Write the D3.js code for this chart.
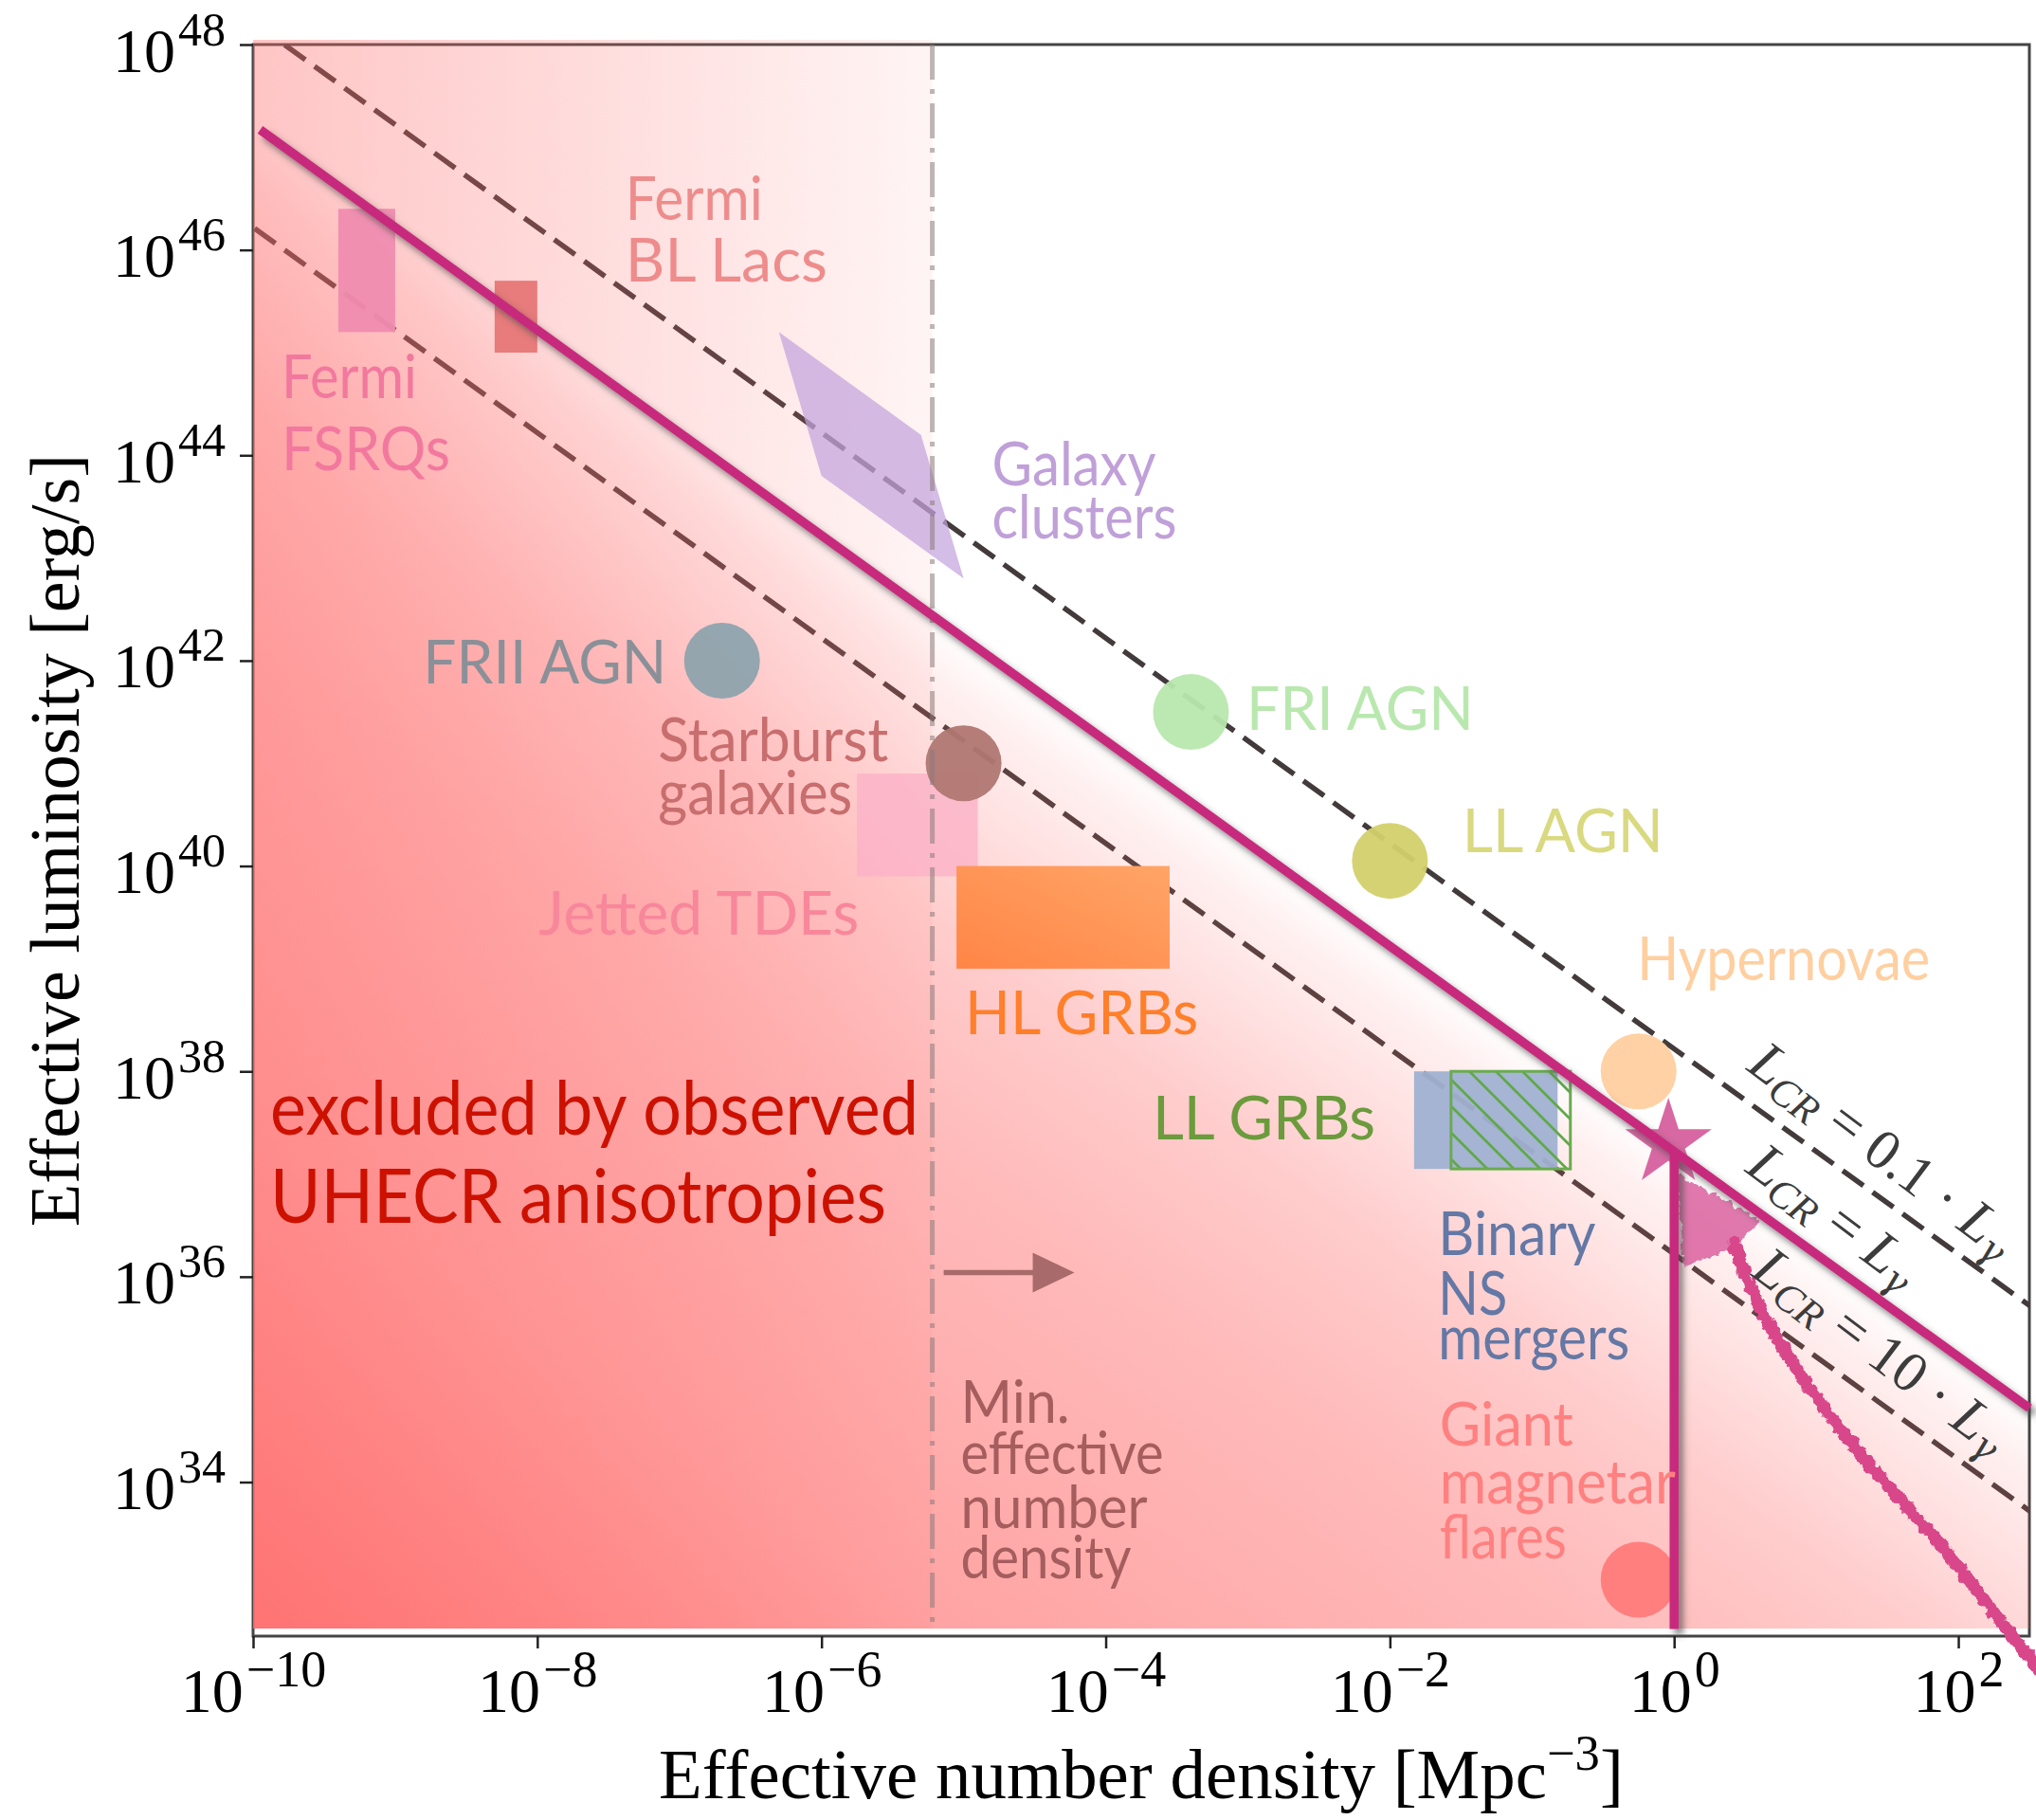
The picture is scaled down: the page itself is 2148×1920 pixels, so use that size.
<!DOCTYPE html>
<html>
<head>
<meta charset="utf-8">
<script src="https://cdn.jsdelivr.net/npm/d3@7"></script>
<style>
  body { margin: 0; background: #fff; }
  svg { display: block; }
</style>
</head>
<body>
<script>
// ---------------- data ----------------
// axis ticks (log10 exponents)
const xTickExps = [-10, -8, -6, -4, -2, 0, 2];
const yTickExps = [34, 36, 38, 40, 42, 44, 46, 48];

// L_CR = ratio * L_gamma reference lines; log10 L at n = 1 Mpc^-3 for ratio 1
const normLogL = 37.22;
const lineRatios = [0.1, 1, 10];

// minimum effective number density (log10 n)
const nMinLog = -5.22;

// single-population sources drawn as discs: log10 n, log10 L
const discNames = ["FRII AGN", "Starburst galaxies", "FRI AGN", "LL AGN", "Hypernovae", "Giant magnetar flares"];
const discLogN  = [-6.7, -5.0, -3.4, -2.0, -0.25, -0.25];
const discLogL  = [42.0, 41.0, 41.5, 40.05, 38.0, 33.05];

// source classes drawn as boxes: log10 n range, log10 L range
const boxNames  = ["Fermi FSRQs", "Fermi BL Lacs", "Jetted TDEs", "HL GRBs", "Binary NS mergers", "LL GRBs"];
const boxLogN0  = [-9.4, -8.3, -5.75, -5.05, -1.83, -1.57];
const boxLogN1  = [-9.0, -8.0, -4.9, -3.55, -0.82, -0.73];
const boxLogL0  = [45.2, 45.0, 39.9, 39.0, 37.05, 37.05];
const boxLogL1  = [46.4, 45.7, 40.9, 40.0, 38.0, 38.0];

// galaxy clusters region (log10 n, log10 L)
const clusterLogN = [-6.3, -5.3, -5.0, -6.0];
const clusterLogL = [45.2, 44.2, 42.8, 43.8];

// magnetar point and its scatter trail (log10 n, log10 L)
const starLogN = -0.04, starLogL = 37.3;
const trailLogN = [0.42, 0.553, 0.867, 1.44, 1.887, 2.333, 2.62];
const trailLogL = [36.34, 35.79, 35.05, 34.03, 33.41, 32.56, 32.09];
const blobLogN = [0.02, 0.6, 0.45, 0.07];
const blobLogL = [37.0, 36.56, 36.3, 36.1];

// ---------------- styles ----------------
const discColors = ["#8ea3ad", "#b07772", "#b8e8ae", "#d3d06b", "#ffcf9f", "#ff7b7b"];
const boxColors  = ["#f08cb0", "#e87b7b", "#fbb1c7", "url(#gradHL)", "#a0b1d1", "url(#hatch)"];
const boxOpacity = [0.95, 1, 0.8, 1, 0.95, 1];
const magenta = "#c72a7d";

const W = 2148, H = 1920;
const pL = 267, pR = 2141, pT = 47, pB = 1726;
const shadeTop = 42, shadeBottom = 1718;

const x = d3.scaleLog().domain([1e-10, Math.pow(10, 2.5)]).range([pL, pR]);
const y = d3.scaleLog().domain([Math.pow(10, 32.5), 1e48]).range([pB, pT]);
const X = ln => x(Math.pow(10, ln));
const Y = ll => y(Math.pow(10, ll));

const svg = d3.select("body").append("svg").attr("width", W).attr("height", H);
const defs = svg.append("defs");

// clip to the axes
defs.append("clipPath").attr("id", "plotClip").append("rect")
  .attr("x", pL).attr("y", pT).attr("width", pR - pL).attr("height", pB - pT);

// shaded excluded region: left of n_min, and below the L_CR = L_gamma line
defs.append("clipPath").attr("id", "leftClip").append("rect")
  .attr("x", pL).attr("y", shadeTop).attr("width", X(nMinLog) - pL).attr("height", shadeBottom - shadeTop);

const lineAt = ln => [X(ln), Y(normLogL - ln)];
const P0 = lineAt(-10), P1 = lineAt(2.5);
defs.append("clipPath").attr("id", "belowClip").append("path")
  .attr("d", d3.line()([P0, P1, [pR, shadeBottom], [pL, shadeBottom]]) + "Z");

// gradient perpendicular to the line
{
  const dx = P1[0] - P0[0], dy = P1[1] - P0[1], len = Math.hypot(dx, dy);
  const nx = -dy / len, ny = dx / len;             // points down-left
  const C = [pL, shadeBottom];
  const t = (C[0] - P0[0]) * nx + (C[1] - P0[1]) * ny;
  const F = [C[0] - t * nx, C[1] - t * ny];
  const g = defs.append("linearGradient").attr("id", "gradBelow")
    .attr("gradientUnits", "userSpaceOnUse")
    .attr("x1", F[0]).attr("y1", F[1]).attr("x2", C[0]).attr("y2", C[1]);
  [[0, 0], [0.04, 0.1], [0.2, 0.33], [0.35, 0.45], [0.67, 0.6], [1, 0.86]].forEach(([o, a]) =>
    g.append("stop").attr("offset", o).attr("stop-color", "rgb(255,102,102)").attr("stop-opacity", a));
}
{
  const g = defs.append("linearGradient").attr("id", "gradLeft")
    .attr("gradientUnits", "userSpaceOnUse")
    .attr("x1", pL).attr("y1", 0).attr("x2", X(nMinLog)).attr("y2", 0);
  g.append("stop").attr("offset", 0).attr("stop-color", "rgb(255,102,102)").attr("stop-opacity", 0.38);
  g.append("stop").attr("offset", 1).attr("stop-color", "rgb(255,102,102)").attr("stop-opacity", 0.07);
}
{
  const g = defs.append("linearGradient").attr("id", "gradHL")
    .attr("x1", 0).attr("y1", 1).attr("x2", 1).attr("y2", 0);
  g.append("stop").attr("offset", 0).attr("stop-color", "#ff8546");
  g.append("stop").attr("offset", 1).attr("stop-color", "#ffa567");
}
// hatch for LL GRBs
{
  const p = defs.append("pattern").attr("id", "hatch").attr("patternUnits", "userSpaceOnUse")
    .attr("width", 28).attr("height", 28);
  p.append("path").attr("d", "M-7,-7L35,35M-7,21L7,35M21,-7L35,7")
    .attr("stroke", "#5fa84a").attr("stroke-width", 2.8).attr("fill", "none");
}
// drop shadow for the constraint lines
{
  const f = defs.append("filter").attr("id", "shadow").attr("filterUnits", "userSpaceOnUse")
    .attr("x", 0).attr("y", 0).attr("width", W).attr("height", H);
  f.append("feDropShadow").attr("dx", 5).attr("dy", 6).attr("stdDeviation", 3.5)
    .attr("flood-color", "#4a4a4a").attr("flood-opacity", 0.65);
}
// rough edge for the scatter trail
{
  const f = defs.append("filter").attr("id", "rough").attr("filterUnits", "userSpaceOnUse")
    .attr("x", 0).attr("y", 0).attr("width", W).attr("height", H);
  f.append("feTurbulence").attr("type", "fractalNoise").attr("baseFrequency", 0.14)
    .attr("numOctaves", 2).attr("seed", 4).attr("result", "noise");
  f.append("feDisplacementMap").attr("in", "SourceGraphic").attr("in2", "noise")
    .attr("scale", 9).attr("xChannelSelector", "R").attr("yChannelSelector", "G");
}

// ---------------- frame (under the shading) ----------------
svg.append("rect").attr("x", pL).attr("y", pT).attr("width", pR - pL).attr("height", pB - pT)
  .attr("fill", "none").attr("stroke", "#444").attr("stroke-width", 3);

// ---------------- dashed L_CR lines ----------------
const lineGen = d3.line().x(d => X(d[0])).y(d => Y(d[1]));
const plot = svg.append("g").attr("clip-path", "url(#plotClip)");
lineRatios.filter(r => r !== 1).forEach(r => {
  const off = -Math.log10(r);
  plot.append("path")
    .attr("d", lineGen([[-10.2, normLogL + off + 10.2], [2.6, normLogL + off - 2.6]]))
    .attr("fill", "none").attr("stroke", "#433b3b").attr("stroke-width", 5.5)
    .attr("stroke-dasharray", "27,12");
});

// ---------------- shading ----------------
svg.append("rect").attr("x", pL).attr("y", shadeTop).attr("width", pR - pL).attr("height", shadeBottom - shadeTop)
  .attr("fill", "url(#gradLeft)").attr("clip-path", "url(#leftClip)");
svg.append("rect").attr("x", pL).attr("y", shadeTop).attr("width", pR - pL).attr("height", shadeBottom - shadeTop)
  .attr("fill", "url(#gradBelow)").attr("clip-path", "url(#belowClip)");

// ---------------- sources ----------------
const marks = svg.append("g");
// boxes
boxNames.forEach((name, i) => {
  const x0 = X(boxLogN0[i]), x1 = X(boxLogN1[i]), y0 = Y(boxLogL1[i]), y1 = Y(boxLogL0[i]);
  const r = marks.append("rect").attr("x", x0).attr("y", y0).attr("width", x1 - x0).attr("height", y1 - y0)
    .attr("fill", boxColors[i]).attr("fill-opacity", boxOpacity[i]);
  if (name === "LL GRBs") r.attr("stroke", "#6aab50").attr("stroke-width", 3);
});
// galaxy clusters
marks.append("path")
  .attr("d", d3.line()(clusterLogN.map((n, i) => [X(n), Y(clusterLogL[i])])) + "Z")
  .attr("fill", "#c3a3dc").attr("fill-opacity", 0.72);
// discs
discNames.forEach((name, i) => {
  marks.append("circle").attr("cx", X(discLogN[i])).attr("cy", Y(discLogL[i])).attr("r", 40)
    .attr("fill", discColors[i]).attr("fill-opacity", 0.95);
});
// magnetar star
marks.append("path")
  .attr("d", d3.symbol(d3.symbolStar, 48 * 48 / 0.8908130915292852)())
  .attr("transform", `translate(${X(starLogN)},${Y(starLogL)})`)
  .attr("fill", "#d6609e").attr("fill-opacity", 0.95);

// minimum density marker (dash-dot)
svg.append("line").attr("x1", X(nMinLog)).attr("x2", X(nMinLog)).attr("y1", pT).attr("y2", shadeBottom)
  .attr("stroke", "#8a7a7a").attr("stroke-opacity", 0.55).attr("stroke-width", 5)
  .attr("stroke-dasharray", "37,10,5,10");

// ---------------- magnetar scatter trail ----------------
const rough = svg.append("g").attr("filter", "url(#rough)");
rough.append("path")
  .attr("d", d3.line()(blobLogN.map((n, i) => [X(n), Y(blobLogL[i])])) + "Z")
  .attr("fill", "#d8589a").attr("fill-opacity", 0.8);
rough.append("path")
  .attr("d", d3.line().curve(d3.curveBasis)(trailLogN.map((n, i) => [X(n), Y(trailLogL[i])])))
  .attr("fill", "none").attr("stroke", "#d8478a").attr("stroke-width", 13).attr("stroke-linecap", "round");

// ---------------- L_CR = L_gamma and n = 1 constraint ----------------
const cons = svg.append("g").attr("filter", "url(#shadow)");
cons.append("path")
  .attr("d", lineGen([[-9.95, normLogL + 9.95], [2.5, normLogL - 2.5]]))
  .attr("fill", "none").attr("stroke", magenta).attr("stroke-width", 9.5);
cons.append("path")
  .attr("d", lineGen([[0, normLogL], [0, 32.57]]))
  .attr("fill", "none").attr("stroke", magenta).attr("stroke-width", 9.5);

// arrow pointing to higher densities
{
  const ay = Y(36.04), ax0 = X(-5.14), ax1 = X(-4.22);
  svg.append("line").attr("x1", ax0).attr("x2", ax1 - 40).attr("y1", ay).attr("y2", ay)
    .attr("stroke", "#a86a6a").attr("stroke-width", 5.5);
  svg.append("path").attr("d", `M${ax1},${ay}L${ax1 - 44},${ay - 21}L${ax1 - 44},${ay + 21}Z`)
    .attr("fill", "#a86a6a");
}

// ---------------- annotations ----------------
const labels = [
  { lines: ["Fermi", "FSRQs"], ln: -9.80, ll: 44.56, gaps: [0, 76], widths: [143, 178], color: "#f2789e" },
  { lines: ["Fermi", "BL Lacs"], ln: -7.38, ll: 46.29, gaps: [0, 65], widths: [145, 213], color: "#ee8c8c" },
  { lines: ["Galaxy", "clusters"], ln: -4.80, ll: 43.71, gaps: [0, 56], widths: [173, 195], color: "#c0a0d8" },
  { lines: ["FRII AGN"], ln: -7.09, ll: 41.78, gaps: [0], widths: [257], color: "#8a9098", anchor: "end" },
  { lines: ["Starburst", "galaxies"], ln: -7.15, ll: 41.02, gaps: [0, 56], widths: [243, 205], color: "#c86e6e" },
  { lines: ["Jetted TDEs"], ln: -7.99, ll: 39.33, gaps: [0], widths: [338], color: "#f8879b" },
  { lines: ["HL GRBs"], ln: -4.99, ll: 38.36, gaps: [0], widths: [246], color: "#ff7f2a" },
  { lines: ["FRI AGN"], ln: -3.01, ll: 41.33, gaps: [0], widths: [240], color: "#b9e8af" },
  { lines: ["LL AGN"], ln: -1.49, ll: 40.13, gaps: [0], widths: [212], color: "#d9d980" },
  { lines: ["Hypernovae"], ln: -0.26, ll: 38.89, gaps: [0], widths: [309], color: "#ffcfa0" },
  { lines: ["LL GRBs"], ln: -3.67, ll: 37.34, gaps: [0], widths: [235], color: "#6b9b3c" },
  { lines: ["Binary", "NS", "mergers"], ln: -1.66, ll: 36.21, gaps: [0, 63, 110], widths: [166, 73, 202], color: "#6478a5" },
  { lines: ["Giant", "magnetar", "flares"], ln: -1.65, ll: 34.36, gaps: [0, 61, 119], widths: [141, 249, 134], color: "#ff8080" },
  { lines: ["Min.", "effective", "number", "density"], ln: -5.02, ll: 34.58, gaps: [0, 54, 111, 164], widths: [115, 214, 197, 180], color: "#a55d5d", size: 62 },
  { lines: ["excluded by observed", "UHECR anisotropies"], ln: -9.88, ll: 37.38, gaps: [0, 93], widths: [684, 650], color: "#cc1100", size: 79 }
];
const ann = svg.append("g").attr("font-family", "Lato, 'Open Sans', sans-serif");
labels.forEach(lab => {
  const x0 = X(lab.ln), y0 = Y(lab.ll);
  const t = ann.append("text")
    .attr("font-size", lab.size || 64).attr("fill", lab.color)
    .attr("text-anchor", lab.anchor || "start");
  lab.lines.forEach((s, i) => {
    t.append("tspan")
      .attr("x", x0).attr("y", y0 + lab.gaps[i])
      .attr("textLength", lab.widths[i]).attr("lengthAdjust", "spacingAndGlyphs")
      .text(s);
  });
});

// rotated line labels
const serif = "'Liberation Serif', 'DejaVu Serif', serif";
const lcrLabels = [
  { coef: "0.1 \u00b7 ", ln: 0.50, ll: 38.02 },
  { coef: "", ln: 0.49, ll: 37.03 },
  { coef: "10 \u00b7 ", ln: 0.53, ll: 36.02 }
];
lcrLabels.forEach(l => {
  const t = svg.append("text")
    .attr("transform", `translate(${X(l.ln)},${Y(l.ll)}) rotate(37)`)
    .attr("font-family", serif).attr("font-size", 60).attr("fill", "#3c3c3c");
  t.append("tspan").attr("font-style", "italic").text("L");
  t.append("tspan").attr("font-style", "italic").attr("font-size", 43).attr("dy", 9).text("CR");
  t.append("tspan").attr("dy", -9).text(" = " + l.coef);
  t.append("tspan").attr("font-style", "italic").text("L");
  t.append("tspan").attr("font-style", "italic").attr("font-family", "'DejaVu Serif', serif")
    .attr("font-size", 40).attr("dy", 9).text("\u03b3");
});

// ---------------- axes ----------------
const gx = svg.append("g").attr("transform", `translate(0,${pB})`)
  .call(d3.axisBottom(x).tickValues(xTickExps.map(e => Math.pow(10, e))).tickSize(13).tickFormat(() => ""));
gx.select(".domain").remove();
gx.selectAll(".tick line").attr("stroke", "#222").attr("stroke-width", 2.5);
gx.selectAll(".tick").each(function (d, i) {
  const t = d3.select(this).append("text").attr("y", 80).attr("text-anchor", "middle")
    .attr("font-family", serif).attr("font-size", 66).attr("fill", "#000");
  t.append("tspan").text("10");
  const e = xTickExps[i];
  t.append("tspan").attr("dy", -27).attr("dx", 3).attr("font-size", 54).text(e < 0 ? "\u2212" + (-e) : "" + e);
});

const gy = svg.append("g").attr("transform", `translate(${pL},0)`)
  .call(d3.axisLeft(y).tickValues(yTickExps.map(e => Math.pow(10, e))).tickSize(14).tickFormat(() => ""));
gy.select(".domain").remove();
gy.selectAll(".tick line").attr("stroke", "#222").attr("stroke-width", 2.5);
gy.selectAll(".tick").each(function (d, i) {
  const t = d3.select(this).append("text").attr("x", -29).attr("y", 28).attr("text-anchor", "end")
    .attr("font-family", serif).attr("font-size", 66).attr("fill", "#000");
  t.append("tspan").text("10");
  t.append("tspan").attr("dy", -28).attr("dx", 3).attr("font-size", 50).text("" + yTickExps[i]);
});

// axis titles
function fitWidth(sel, target) {
  const w = sel.node().getBBox().width;
  return target / w;
}
{
  const g = svg.append("g");
  const t = g.append("text").attr("text-anchor", "middle").attr("font-family", serif).attr("font-size", 74);
  t.append("tspan").text("Effective number density [Mpc");
  t.append("tspan").attr("dy", -30).attr("font-size", 52).text("\u22123");
  t.append("tspan").attr("dy", 30).text("]");
  const s = fitWidth(t, 1018);
  g.attr("transform", `translate(${(pL + pR) / 2},1897) scale(${s},1)`);
}
{
  const g = svg.append("g");
  const t = g.append("text").attr("text-anchor", "middle").attr("font-family", serif).attr("font-size", 74)
    .text("Effective luminosity [erg/s]");
  const s = fitWidth(t, 815);
  g.attr("transform", `translate(83,${(pT + pB) / 2}) rotate(-90) scale(${s},1)`);
}
</script>
</body>
</html>
